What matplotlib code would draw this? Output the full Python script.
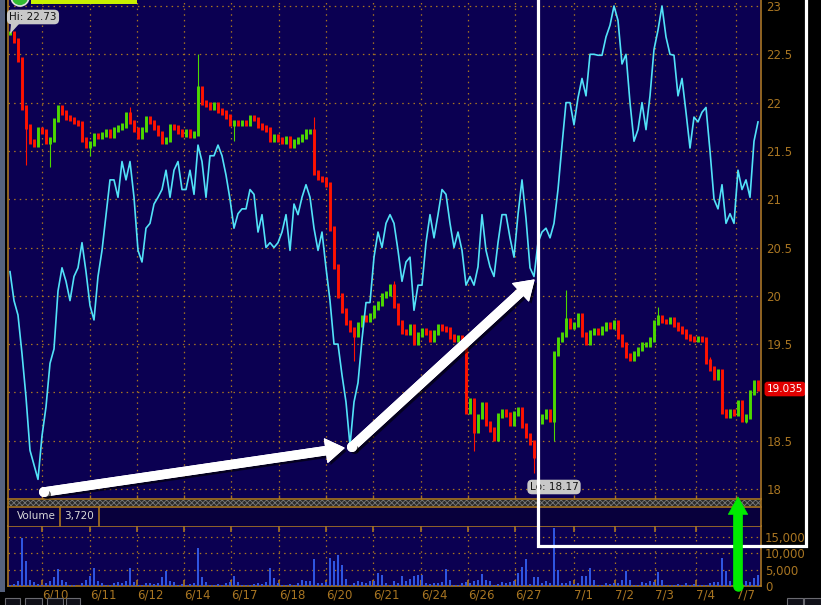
import matplotlib
matplotlib.use('Agg')
import matplotlib.pyplot as plt
import numpy as np
from matplotlib.patches import Rectangle, Ellipse, Polygon, FancyArrowPatch
from matplotlib.lines import Line2D
import matplotlib.patheffects as pe

# ---------------- data ----------------
close = [
    22.72, 22.64, 22.45, 21.95, 21.75, 21.60, 21.57, 21.72, 21.70, 21.60,
    21.62, 21.82, 21.95, 21.90, 21.85, 21.83, 21.80, 21.78, 21.62, 21.55,
    21.58, 21.66, 21.65, 21.67, 21.70, 21.66, 21.72, 21.74, 21.76, 21.88,
    21.80, 21.72, 21.65, 21.72, 21.84, 21.80, 21.74, 21.68, 21.60, 21.62,
    21.75, 21.74, 21.70, 21.67, 21.70, 21.66, 21.68, 22.15, 22.00, 21.98,
    21.95, 21.98, 21.92, 21.90, 21.86, 21.78, 21.80, 21.78, 21.80, 21.78,
    21.85, 21.83, 21.76, 21.74, 21.72, 21.62, 21.65, 21.62, 21.60, 21.63,
    21.55, 21.60, 21.62, 21.65, 21.70, 21.70, 21.28, 21.22, 21.20, 21.15,
    20.70, 20.30, 20.00, 19.85, 19.72, 19.65, 19.60, 19.70, 19.78, 19.75,
    19.80, 19.88, 19.92, 20.00, 20.02, 20.10, 19.90, 19.72, 19.63, 19.62,
    19.68, 19.52, 19.60, 19.64, 19.62, 19.55, 19.62, 19.68, 19.66, 19.65,
    19.58, 19.55, 19.57, 19.55, 18.80, 18.92, 18.60, 18.75, 18.88, 18.68,
    18.62, 18.52, 18.76, 18.80, 18.77, 18.68, 18.78, 18.82, 18.66, 18.55,
    18.48, 18.35, 18.70, 18.75, 18.80, 18.72, 19.40, 19.55, 19.60, 19.75,
    19.68, 19.70, 19.80, 19.60, 19.52, 19.62, 19.64, 19.62, 19.66, 19.70,
    19.68, 19.72, 19.58, 19.50, 19.38, 19.35, 19.40, 19.45, 19.50, 19.50,
    19.55, 19.72, 19.78, 19.74, 19.73, 19.76, 19.70, 19.66, 19.63, 19.58,
    19.56, 19.55, 19.56, 19.55, 19.32, 19.25, 19.15, 19.22, 18.80, 18.76,
    18.80, 18.78, 18.90, 18.72, 18.75, 19.00, 19.10, 19.04,
]

flow = [
    20.25, 19.95, 19.80, 19.40, 18.95, 18.40, 18.25, 18.10, 18.55, 18.85,
    19.30, 19.45, 20.05, 20.29, 20.15, 19.95, 20.20, 20.29, 20.55, 20.25,
    19.90, 19.75, 20.20, 20.47, 20.84, 21.20, 21.20, 21.02, 21.39, 21.20,
    21.39, 21.02, 20.47, 20.35, 20.70, 20.75, 20.95, 21.02, 21.10, 21.30,
    21.02, 21.30, 21.39, 21.10, 21.10, 21.30, 21.05, 21.56, 21.39, 21.02,
    21.45, 21.45, 21.56, 21.45, 21.25, 21.00, 20.70, 20.85, 20.90, 20.90,
    21.10, 21.05, 20.66, 20.84, 20.50, 20.55, 20.50, 20.55, 20.66, 20.84,
    20.47, 20.95, 20.84, 21.02, 21.15, 21.02, 20.70, 20.47, 20.66, 20.29,
    19.95, 19.50, 19.50, 19.18, 18.90, 18.45, 18.90, 19.10, 19.55, 19.93,
    19.93, 20.40, 20.66, 20.50, 20.75, 20.84, 20.75, 20.47, 20.15, 20.35,
    20.40, 19.85, 20.11, 20.11, 20.55, 20.84, 20.60, 20.84, 21.10, 21.05,
    20.75, 20.50, 20.66, 20.47, 20.11, 20.20, 20.11, 20.30, 20.84, 20.47,
    20.30, 20.20, 20.55, 20.84, 20.84, 20.60, 20.40, 20.84, 21.20, 20.80,
    20.29, 20.20, 20.55, 20.66, 20.70, 20.60, 20.75, 21.10, 21.56, 22.00,
    22.00, 21.77, 22.05, 22.25, 22.07, 22.50, 22.50, 22.49, 22.49, 22.68,
    22.80, 23.00, 22.85, 22.40, 22.50, 22.00, 21.60, 21.72, 22.00, 21.72,
    22.07, 22.55, 22.75, 23.00, 22.68, 22.50, 22.49, 22.07, 22.25, 21.90,
    21.53, 21.85, 21.80, 21.90, 21.95, 21.50, 21.00, 20.90, 21.15, 20.75,
    20.85, 20.75, 21.30, 21.10, 21.20, 21.02, 21.60, 21.80,
]

volume = [
    300, 500, 1500, 14700, 7600, 1800, 1200, 600, 300, 1000,
    1500, 2700, 5200, 1800, 1300, 300, 200, 0, 800, 1800,
    3000, 5500, 1500, 1000, 300, 200, 800, 1200, 1000, 1500,
    5500, 1200, 300, 200, 800, 1000, 600, 1000, 2700, 4600,
    1400, 1200, 300, 500, 300, 500, 1000, 11600, 2700, 1300,
    200, 300, 500, 300, 800, 1200, 3000, 1200, 300, 200,
    300, 500, 800, 600, 1200, 5500, 2400, 1000, 300, 200,
    500, 300, 800, 1800, 1500, 1500, 8300, 800, 1000, 1200,
    8500, 7600, 9500, 6500, 2000, 300, 1000, 1500, 1200, 1000,
    1500, 1400, 4000, 3300, 1000, 300, 1500, 800, 3000, 1500,
    2000, 3000, 3500, 3500, 1000, 500, 1000, 800, 1200, 5200,
    1800, 300, 200, 800, 1200, 1000, 1500, 1800, 3600, 1800,
    1500, 200, 600, 1200, 800, 1200, 1500, 4000, 5800, 8300,
    500, 2800, 2800, 1000, 1500, 800, 17700, 4800, 1000, 800,
    1500, 600, 1000, 3000, 3000, 5500, 1800, 300, 200, 800,
    600, 1000, 800, 1800, 4700, 1800, 300, 200, 1200, 800,
    1500, 1200, 4300, 1800, 300, 200, 300, 500, 300, 800,
    300, 600, 300, 200, 400, 800, 1200, 1200, 8700, 4500,
    1500, 300, 200, 300, 1500, 1200, 2500, 3500,
]

# wick extremes (time slot position, price)
spike_pos = [12, 28, 48, 92, 128, 197, 232, 312, 356, 392, 475, 534, 555, 565, 657, 710, 745]
spike_val = [22.73, 21.35, 21.33, 21.45, 21.95, 22.50, 21.60, 21.85, 19.32, 20.15,
             18.39, 18.17, 18.50, 20.06, 19.88, 19.37, 18.68]

day_edges = [42, 90, 137, 184, 231, 279, 326, 373, 421, 468, 515, 574, 615, 655, 696, 736]
day_labels = ['6/10', '6/11', '6/12', '6/14', '6/17', '6/18', '6/20', '6/21',
              '6/24', '6/26', '6/27', '7/1', '7/2', '7/3', '7/4', '7/7']

price_ticks = [18, 18.5, 19, 19.5, 20, 20.5, 21, 21.5, 22, 22.5, 23]
# the "19" label is hidden behind the last-price tag in the reference
price_labels = ['18', '18.5', '', '19.5', '20', '20.5', '21', '21.5', '22', '22.5', '23']
vol_ticks = [0, 5000, 10000, 15000]
vol_labels = ['0', '5,000', '10,000', '15,000']

hi_text = 'Hi: 22.73'
lo_text = 'Lo: 18.17'
last_text = '19.035'
vol_text = '3,720'

# ---------------- style ----------------
W, H = 821, 605
NAVY = '#0b0052'
ORANGE = '#a87522'
RED = '#ff1200'
GREEN = '#4cd800'
CYAN = '#52e2f8'
BLUE = '#2f55e0'
X0, STEP = 10, 4

plt.rcParams['hatch.linewidth'] = 0.6
plt.rcParams['hatch.color'] = '#7a7a7a'

fig = plt.figure(figsize=(W / 100, H / 100), dpi=100, facecolor='black')


def fr(x0, y0, x1, y1):
    return [x0 / W, 1 - y1 / H, (x1 - x0) / W, (y1 - y0) / H]


def fp(x, y):
    return (x / W, 1 - y / H)


ax = fig.add_axes(fr(8, 0, 761, 499))
axv = fig.add_axes(fr(8, 526, 761, 586))

n = len(close)
x = X0 + STEP * np.arange(n)
c = np.array(close)
o = np.r_[c[0], c[:-1]]
lo = np.minimum(o, c)
hi = np.maximum(o, c)
wlo = lo.copy()
whi = hi.copy()
for p, v in zip(spike_pos, spike_val):
    i = int(round((p - X0) / STEP))
    i = min(max(i, 0), n - 1)
    whi[i] = max(whi[i], v)
    wlo[i] = min(wlo[i], v)
cols = np.where(c >= o, GREEN, RED)

ax.set_facecolor(NAVY)
ax.set_xlim(8, 761)
ax.set_ylim(17.8965, 23.0621)
ax.set_axisbelow(True)
ax.grid(True, color=ORANGE, ls=(0, (1.2, 3.3)), lw=0.9)
ax.vlines(x, wlo, whi, colors=cols, lw=0.8, zorder=3)
ax.vlines(x, lo - 0.025, hi + 0.025, colors=cols, lw=2.1, zorder=3)
ax.plot(x, flow, color=CYAN, lw=1.2, zorder=4)

ax.set_xticks(day_edges)
ax.set_xticklabels([])
ax.tick_params(axis='x', direction='in', length=3, color=ORANGE, width=1)
ax.yaxis.tick_right()
ax.set_yticks(price_ticks)
ax.set_yticklabels(price_labels)
ax.tick_params(axis='y', length=0, pad=4, labelcolor=ORANGE, labelsize=8.5)
ax.spines['top'].set_visible(False)
for s in ['left', 'right', 'bottom']:
    ax.spines[s].set_color(ORANGE)
    ax.spines[s].set_linewidth(1.2)

axv.set_facecolor(NAVY)
axv.set_xlim(8, 761)
axv.set_ylim(0, 18367)
axv.set_axisbelow(True)
axv.grid(True, color=ORANGE, ls=(0, (1.2, 3.3)), lw=0.9)
axv.bar(x, volume, width=2.2, color=BLUE, lw=0, zorder=3)
axv.set_xticks(day_edges)
axv.set_xticklabels(day_labels)
for t in axv.get_xticklabels():
    t.set_ha('left')
axv.tick_params(axis='x', direction='in', length=4, top=True, bottom=True,
                color=ORANGE, width=1.2, labelcolor=ORANGE, labelsize=8.5, pad=2)
axv.yaxis.tick_right()
axv.set_yticks(vol_ticks)
axv.set_yticklabels(vol_labels)
axv.tick_params(axis='y', length=0, pad=3, labelcolor=ORANGE, labelsize=8.5)
for s in axv.spines.values():
    s.set_color(ORANGE)
    s.set_linewidth(1.2)

# ---------------- chrome ----------------
def rect(x0, y0, x1, y1, **kw):
    r = Rectangle(fp(x0, y1), (x1 - x0) / W, (y1 - y0) / H, transform=fig.transFigure, **kw)
    fig.add_artist(r)
    return r


def fline(xs, ys, **kw):
    fig.add_artist(Line2D([v / W for v in xs], [1 - v / H for v in ys], transform=fig.transFigure, **kw))


rect(0, 0, 5, 592, facecolor='#56627e', lw=0)
rect(8, 500, 761, 506, facecolor='#2a2a2a', edgecolor='#7a7a7a', hatch='xxxxxx', lw=0)
rect(8, 507, 761, 526, facecolor='#08003c', lw=0)
fline([8, 761], [507, 507], color=ORANGE, lw=1.2)
fline([60, 60], [507, 526], color=ORANGE, lw=1.2)
fline([99, 99], [507, 526], color=ORANGE, lw=1.2)
fline([7.5, 7.5], [499, 526], color=ORANGE, lw=1.2)
fline([761, 761], [499, 526], color=ORANGE, lw=1.2)
fig.text(17 / W, 1 - 516 / H, 'Volume', color='#d8d8d8', fontsize=7.5, va='center')
fig.text(64 / W, 1 - 516 / H, vol_text, color='#d8d8d8', fontsize=7.5, va='center')

# bottom small boxes
for bx0, bx1 in [(5, 20), (25, 42), (47, 63), (66, 80), (787, 803), (804, 821)]:
    rect(bx0, 598, bx1, 606, facecolor='#101018', edgecolor='#6a6a70', lw=0.8)

# top-left decorations
rect(31, 0, 137, 4, facecolor='#c8f000', lw=0)
fig.add_artist(Ellipse(fp(20, -3), 18 / W, 18 / H, transform=fig.transFigure,
                       facecolor='#33bb33', edgecolor='#e0e0e0', lw=1.2))

# hi / lo bubbles
fig.add_artist(Polygon([fp(11, 24), fp(19, 24), fp(10, 34)], closed=True,
                       transform=fig.transFigure, facecolor='#c8c8c8', lw=0))
bub = dict(boxstyle='round,pad=0.22,rounding_size=0.45', fc='#c8c8c8', ec='none')
fig.text(33 / W, 1 - 17 / H, hi_text, ha='center', va='center', fontsize=7.5,
         color='#151515', bbox=bub)
fig.text(554 / W, 1 - 487 / H, lo_text, ha='center', va='center', fontsize=7.5,
         color='#151515', bbox=bub)
fig.text(785 / W, 1 - 389 / H, last_text, ha='center', va='center', fontsize=7.5,
         color='white', bbox=dict(boxstyle='round,pad=0.22,rounding_size=0.3',
                                  fc='#e00000', ec='none'))

# white box
fline([538, 538, 806, 806], [-5, 546, 546, -5], color='white', lw=2.3, zorder=20,
      solid_joinstyle='miter')

# arrows
shadow = [pe.withSimplePatchShadow(offset=(2, -2), shadow_rgbFace='#000000', alpha=0.6), pe.Normal()]
for (ax0, ay0), (ax1, ay1) in [((44, 492), (344, 448)), ((352, 447), (534, 280))]:
    a = FancyArrowPatch(fp(ax0, ay0), fp(ax1, ay1), transform=fig.transFigure,
                        arrowstyle='simple,head_length=1.3,head_width=1.7,tail_width=0.6',
                        mutation_scale=10, facecolor='white', edgecolor='white', lw=0.8,
                        joinstyle='round', shrinkA=0, shrinkB=0, zorder=22,
                        path_effects=shadow)
    fig.add_artist(a)
    fig.add_artist(Line2D([ax0 / W], [1 - ay0 / H], transform=fig.transFigure, marker='o',
                          ms=6.2, color='white', mec='white', ls='none', zorder=22,
                          path_effects=shadow))

g = FancyArrowPatch(fp(738, 586), fp(738, 497), transform=fig.transFigure,
                    arrowstyle='simple,head_length=1.25,head_width=1.4,tail_width=0.65',
                    mutation_scale=10, facecolor='#00ea00', edgecolor='#00ea00', lw=0.5,
                    shrinkA=0, shrinkB=0, zorder=22)
fig.add_artist(g)
fig.add_artist(Line2D([738 / W], [1 - 586 / H], transform=fig.transFigure, marker='o',
                      ms=6.5, color='#00ea00', ls='none', zorder=22))

fig.savefig('out.png', dpi=100, facecolor='black')
